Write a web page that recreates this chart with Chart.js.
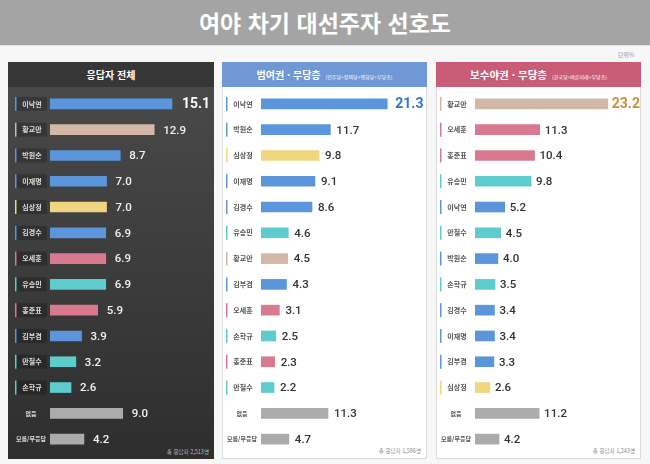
<!DOCTYPE html>
<html lang="ko">
<head>
    <meta charset="UTF-8">
    <title>여야 차기 대선주자 선호도</title>
    <script src="https://cdn.jsdelivr.net/npm/chart.js"></script>
    <style>
        body {
            margin: 0;
            width: 650px;
            height: 464px;
            background: #f7f7f7;
            font-family: 'Noto Sans CJK KR', 'Noto Sans', sans-serif;
            position: relative;
            overflow: hidden;
        }
        .title {
            position: absolute;
            left: 0; top: 0;
            width: 650px; height: 45px;
            background: #a4a4a4;
            border-bottom: 1px solid #e4e4e4;
            color: #fff;
            font-size: 23px;
            font-weight: bold;
            text-align: center;
            line-height: 45px;
        }
        .unit {
            position: absolute;
            left: 618px; top: 50px;
            font-size: 6px;
            color: #999;
        }
        .panel {
            position: absolute;
            top: 62px;
            height: 397px;
            box-sizing: border-box;
        }
        .head {
            height: 25px;
            line-height: 25px;
            color: #fff;
            font-weight: bold;
            font-size: 10px;
            text-align: center;
        }
        .head small { font-size: 5px; font-weight: normal; margin-left: 5px; }
        .foot {
            position: absolute;
            right: 5px; bottom: 3px;
            font-size: 5.5px;
            color: #888;
        }
        #p0 { left: 8px; width: 206px; background: linear-gradient(#4b4b4b, #2e2e2e); }
        #p0 .head { background: #363636; }
        #p0 .foot { color: #bbb; }
        #p1 { left: 222px; width: 205px; background: #fff; border: 1px solid #dcdcdc; }
        #p1 .head { background: #6f98d4; margin: -1px -1px 0 -1px; }
        #p2 { left: 436px; width: 205px; background: #fff; border: 1px solid #dcdcdc; }
        #p2 .head { background: #c95c77; margin: -1px -1px 0 -1px; font-size: 10.5px; }
        canvas { position: absolute; top: 91px; }
    </style>
</head>
<body>
    <div class="title">여야 차기 대선주자 선호도</div>
    <div class="unit">단위%</div>

    <div id="p0" class="panel">
        <div class="head">응답자 전체</div>
        <div class="foot">총 응답자 2,513명</div>
    </div>
    <div id="p1" class="panel">
        <div class="head">범여권 · 무당층<small>(민주당+정의당+평화당+무당층)</small></div>
        <div class="foot">총 응답자 1,586명</div>
    </div>
    <div id="p2" class="panel">
        <div class="head">보수야권 · 무당층<small>(한국당+바른미래+무당층)</small></div>
        <div class="foot">총 응답자 1,243명</div>
    </div>

    <canvas id="c0" width="206" height="361" style="left:8px"></canvas>
    <canvas id="c1" width="205" height="361" style="left:222px"></canvas>
    <canvas id="c2" width="205" height="361" style="left:436px"></canvas>

    <script>
        // 응답자 전체
        const allNames = ['이낙연', '황교안', '박원순', '이재명', '심상정', '김경수', '오세훈', '유승민', '홍준표', '김부겸', '안철수', '손학규', '없음', '모름/무응답'];
        const allValues = [15.1, 12.9, 8.7, 7.0, 7.0, 6.9, 6.9, 6.9, 5.9, 3.9, 3.2, 2.6, 9.0, 4.2];

        // 범여권 · 무당층
        const proNames = ['이낙연', '박원순', '심상정', '이재명', '김경수', '유승민', '황교안', '김부겸', '오세훈', '손학규', '홍준표', '안철수', '없음', '모름/무응답'];
        const proValues = [21.3, 11.7, 9.8, 9.1, 8.6, 4.6, 4.5, 4.3, 3.1, 2.5, 2.3, 2.2, 11.3, 4.7];

        // 보수야권 · 무당층
        const conNames = ['황교안', '오세훈', '홍준표', '유승민', '이낙연', '안철수', '박원순', '손학규', '김경수', '이재명', '김부겸', '심상정', '없음', '모름/무응답'];
        const conValues = [23.2, 11.3, 10.4, 9.8, 5.2, 4.5, 4.0, 3.5, 3.4, 3.4, 3.3, 2.6, 11.2, 4.2];

        const blue = '#5b96dc', tan = '#d3b8a7', yellow = '#f0d67f', pink = '#d87990', teal = '#5ecbcc', gray = '#ababab';
        const colorOf = {
            '이낙연': blue, '박원순': blue, '이재명': blue, '김경수': blue, '김부겸': blue,
            '황교안': tan, '심상정': yellow, '오세훈': pink, '홍준표': pink,
            '유승민': teal, '안철수': teal, '손학규': teal,
            '없음': gray, '모름/무응답': gray
        };
        const KR = '"Noto Sans CJK KR", "Noto Sans", sans-serif';

        // name boxes on the left and value labels at bar ends
        const rowDecor = {
            id: 'rowDecor',
            afterDatasetsDraw(chart, args, o) {
                const ctx = chart.ctx;
                const names = chart.data.labels;
                const vals = chart.data.datasets[0].data;
                chart.getDatasetMeta(0).data.forEach((bar, i) => {
                    const y = bar.y;
                    const name = names[i];
                    ctx.save();
                    ctx.textBaseline = 'middle';
                    ctx.textAlign = 'center';
                    if (name === '없음' || name === '모름/무응답') {
                        ctx.font = 'bold 6px ' + KR;
                        ctx.fillStyle = o.labelColor;
                        ctx.fillText(name, o.boxX + o.boxW / 2, y);
                    } else {
                        ctx.fillStyle = o.boxFill;
                        ctx.fillRect(o.boxX, y - 7, o.boxW, 14);
                        ctx.fillStyle = colorOf[name];
                        ctx.fillRect(o.boxX, y - 7, 1.5, 14);
                        ctx.font = 'bold 7px ' + KR;
                        ctx.fillStyle = o.labelColor;
                        ctx.fillText(name, o.boxX + o.boxW / 2 + 1, y);
                    }
                    const lead = i === 0;
                    ctx.textAlign = 'left';
                    ctx.font = lead ? 'bold 14px Roboto' : '500 11.5px Roboto';
                    ctx.fillStyle = lead ? o.leadColor : o.valueColor;
                    ctx.fillText(vals[i].toFixed(1), bar.x + (lead ? o.leadGap : o.gap), y + 1);
                    ctx.restore();
                });
            }
        };

        function makeChart(id, names, values, max, padLeft, deco) {
            return new Chart(document.getElementById(id), {
                type: 'bar',
                data: {
                    labels: names,
                    datasets: [{
                        data: values,
                        backgroundColor: names.map(n => colorOf[n]),
                        barThickness: 10,
                        borderWidth: 0
                    }]
                },
                options: {
                    indexAxis: 'y',
                    responsive: false,
                    animation: false,
                    layout: { padding: { left: padLeft, right: 0, top: 0, bottom: 0 } },
                    scales: {
                        x: { display: false, min: 0, max: max },
                        y: { display: false, offset: true }
                    },
                    plugins: {
                        legend: { display: false },
                        tooltip: { enabled: false },
                        rowDecor: deco
                    }
                },
                plugins: [rowDecor]
            });
        }

        makeChart('c0', allNames, allValues, 20.3, 42, {
            boxX: 7, boxW: 32, boxFill: 'rgba(0,0,0,0.22)', labelColor: '#dddddd',
            valueColor: '#f2f2f2', leadColor: '#ffffff', gap: 9, leadGap: 10
        });
        makeChart('c1', proNames, proValues, 28.0, 39, {
            boxX: 4, boxW: 32, boxFill: '#ffffff', labelColor: '#555555',
            valueColor: '#333333', leadColor: '#2f74c8', gap: 6, leadGap: 8
        });
        makeChart('c2', conNames, conValues, 29.0, 39, {
            boxX: 4, boxW: 32, boxFill: '#ffffff', labelColor: '#555555',
            valueColor: '#333333', leadColor: '#d08a3e', gap: 5, leadGap: 4
        });
    </script>
</body>
</html>
